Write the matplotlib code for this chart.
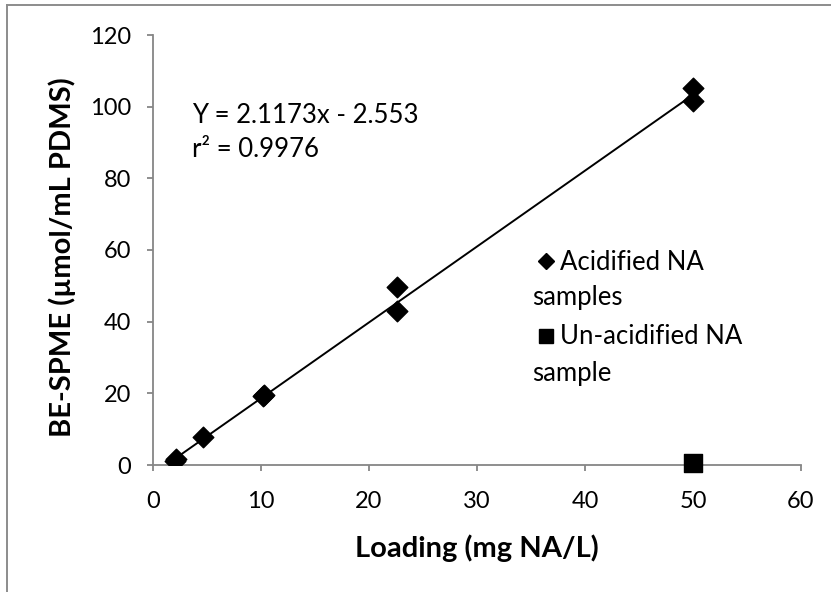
import matplotlib
matplotlib.use("Agg")
import matplotlib.pyplot as plt
import numpy as np
from matplotlib.lines import Line2D

plt.rcParams['font.family'] = ['Lato', 'DejaVu Sans']

acid_x = [2.0, 2.1, 4.6, 10.2, 10.3, 22.6, 22.6, 50.0, 50.0]
acid_y = [1.2, 1.8, 7.9, 19.2, 19.6, 49.7, 43.0, 105.1, 101.5]
unacid_x = [50.0]
unacid_y = [0.5]
slope, intercept = 2.1173, -2.553
eq_text = "Y = 2.1173x - 2.553\nr² = 0.9976"
leg_first = ["Acidified NA", "Un-acidified NA"]
leg_second = ["samples", "sample"]
xticks = [0, 10, 20, 30, 40, 50, 60]
yticks = [0, 20, 40, 60, 80, 100, 120]

W, H = 831, 592
FS = 18.5
fig = plt.figure(figsize=(W/100, H/100), dpi=100)
# chart border (left and top visible)
fig.add_artist(Line2D([7/W, 7/W], [0, 1-5/H], transform=fig.transFigure, color='#8c8c8c', lw=1.4))
fig.add_artist(Line2D([7/W, 1], [1-5/H, 1-5/H], transform=fig.transFigure, color='#8c8c8c', lw=1.4))

ax = fig.add_axes([153/W, 1-465/H, 648/W, 430/H])

tx = np.array([min(acid_x), max(acid_x)])
ax.plot(tx, slope*tx + intercept, color='black', linewidth=1.4, zorder=2)
ax.scatter(acid_x, acid_y, marker='D', s=110, color='black', zorder=3)
ax.scatter(unacid_x, unacid_y, marker='s', s=185, color='black', zorder=3, clip_on=False)

ax.set_xlim(0, 60)
ax.set_ylim(0, 120)
ax.set_xticks(xticks)
ax.set_yticks(yticks)
for s in ['top', 'right']:
    ax.spines[s].set_visible(False)
for s in ['left', 'bottom']:
    ax.spines[s].set_color('#868686')
    ax.spines[s].set_linewidth(1.3)
ax.tick_params(axis='both', direction='out', length=4, color='#868686', labelsize=17, width=1.3)
ax.tick_params(axis='x', pad=15)
ax.tick_params(axis='y', pad=12)
ax.set_xlabel('Loading (mg NA/L)', fontsize=21, fontweight='bold')
ax.set_ylabel('BE-SPME (µmol/mL PDMS)', fontsize=21, fontweight='bold')
ax.xaxis.label.set_va('center')
ax.yaxis.label.set_va('center')
ax.xaxis.set_label_coords(0.5, (465-548)/430)
ax.yaxis.set_label_coords((62-153)/648, (465-257)/430)

ax.text(3.6, 92.9, eq_text, fontsize=FS, va='center', ha='left', linespacing=1.45)

handles = [Line2D([], [], marker='D', color='black', linestyle='none', markersize=8.5),
           Line2D([], [], marker='s', color='black', linestyle='none', markersize=10)]

def make_leg(anchor_x, anchor_y, ls):
    return ax.legend(handles, leg_first, loc='upper left', bbox_to_anchor=(anchor_x/W, anchor_y/H),
                     bbox_transform=fig.transFigure, frameon=False, fontsize=FS,
                     handlelength=0.8, handletextpad=0.15, borderpad=0, labelspacing=ls)

ax_x, ax_y, ls = 537.0, H - 245.0, 1.75
fs_px = FS * 100 / 72
for _ in range(3):
    leg = make_leg(ax_x, ax_y, ls)
    fig.canvas.draw()
    bbs = [t.get_window_extent() for t in leg.get_texts()]
    cy1 = (bbs[0].y0 + bbs[0].y1) / 2
    cy2 = (bbs[1].y0 + bbs[1].y1) / 2
    ls -= ((cy1 - cy2) - 75) / fs_px
    ax_y += (H - 262) - cy1
    ax_x += 560 - bbs[0].x0

leg = make_leg(ax_x, ax_y, ls)
fig.canvas.draw()
for t, extra in zip(leg.get_texts(), leg_second):
    bb = t.get_window_extent()
    cy = (bb.y0 + bb.y1) / 2
    fig.text(532/W, (cy - 36)/H, extra, fontsize=FS, va='center', ha='left')

fig.savefig('out.png', dpi=100)
